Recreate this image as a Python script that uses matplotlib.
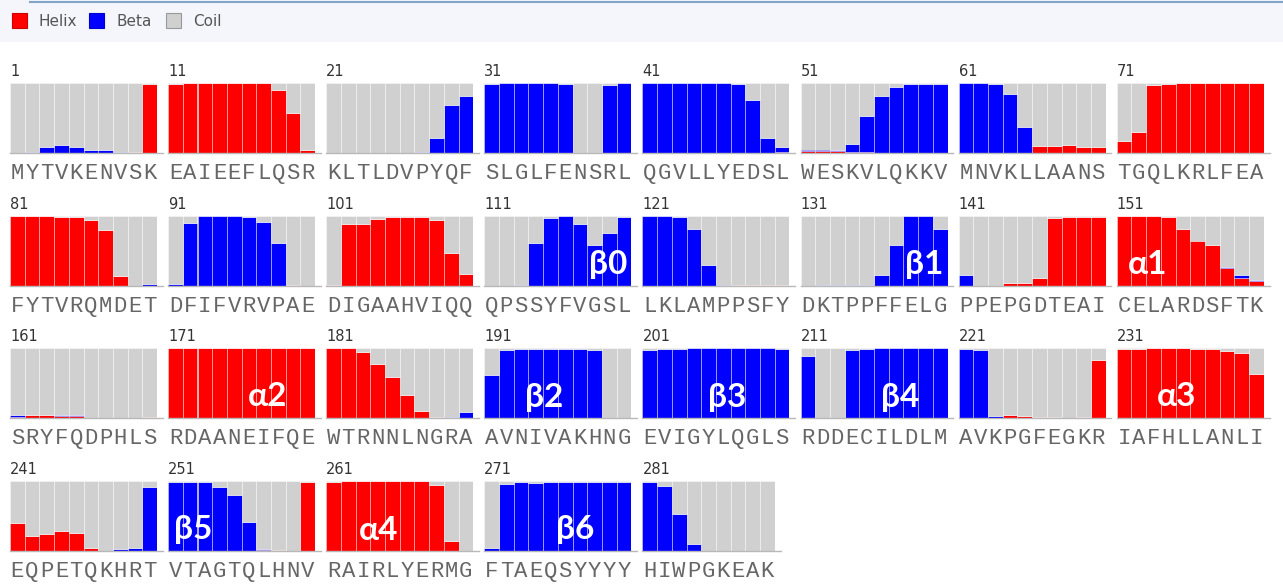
import matplotlib
matplotlib.use('Agg')
import matplotlib.pyplot as plt
from matplotlib.patches import Rectangle
import matplotlib.transforms as mtransforms

# residue sequence (10 per block)
blocks = ['MYTVKENVSK', 'EAIEEFLQSR', 'KLTLDVPYQF', 'SLGLFENSRL', 'QGVLLYEDSL',
          'WESKVLQKKV', 'MNVKLLAANS', 'TGQLKRLFEA', 'FYTVRQMDET', 'DFIFVRVPAE',
          'DIGAAHVIQQ', 'QPSSYFVGSL', 'LKLAMPPSFY', 'DKTPPFFELG', 'PPEPGDTEAI',
          'CELARDSFTK', 'SRYFQDPHLS', 'RDAANEIFQE', 'WTRNNLNGRA', 'AVNIVAKHNG',
          'EVIGYLQGLS', 'RDDECILDLM', 'AVKPGFEGKR', 'IAFHLLANLI', 'EQPETQKHRT',
          'VTAGTQLHNV', 'RAIRLYERMG', 'FTAEQSYYYY', 'HIWPGKEAK']
z10 = [0]*10

helix = [
    [0, 0, 0, 0, 0, 0, 0, 0, 0.01, 0.98],
    [0.99, 1, 1, 1, 1, 1, 1, 0.9, 0.57, 0.05],
    z10,
    z10,
    [0, 0, 0, 0, 0, 0, 0, 0, 0, 0.02],
    [0.03, 0.03, 0.03, 0.02, 0.01, 0, 0, 0, 0, 0],
    [0, 0, 0, 0, 0, 0.1, 0.1, 0.11, 0.09, 0.09],
    [0.17, 0.3, 0.97, 0.99, 1, 1, 1, 1, 1, 1],
    [1, 1, 1, 0.99, 0.98, 0.94, 0.8, 0.14, 0, 0],
    [0, 0, 0, 0, 0, 0, 0, 0, 0.01, 0],
    [0.02, 0.88, 0.89, 0.96, 0.99, 0.99, 0.98, 0.94, 0.47, 0.17],
    z10,
    [0, 0, 0, 0, 0, 0, 0.02, 0.02, 0.02, 0.01],
    z10,
    [0, 0, 0, 0.04, 0.04, 0.11, 0.97, 0.99, 0.99, 0.99],
    [1, 1, 1, 0.98, 0.81, 0.65, 0.58, 0.25, 0.12, 0.07],
    [0.02, 0.04, 0.04, 0.03, 0.03, 0, 0, 0, 0, 0.01],
    [1, 1, 1, 1, 1, 1, 1, 1, 1, 1],
    [1, 1, 0.95, 0.77, 0.59, 0.33, 0.1, 0.02, 0, 0],
    z10,
    z10,
    z10,
    [0, 0, 0, 0.04, 0.03, 0.02, 0.01, 0, 0.02, 0.83],
    [0.98, 0.99, 1, 1, 1, 0.99, 0.98, 0.96, 0.93, 0.63],
    [0.4, 0.21, 0.25, 0.28, 0.26, 0.05, 0, 0, 0, 0],
    [0, 0, 0, 0, 0, 0, 0.01, 0.01, 0, 0.98],
    [0.99, 1, 1, 1, 1, 1, 1, 0.95, 0.15, 0],
    z10,
    [0, 0, 0, 0, 0, 0, 0, 0, 0],
]

beta = [
    [0, 0.02, 0.08, 0.11, 0.08, 0.05, 0.04, 0.01, 0.01, 0],
    z10,
    [0, 0, 0, 0, 0, 0, 0.01, 0.21, 0.68, 0.82],
    [0.98, 1, 1, 1, 1, 0.98, 0, 0, 0.97, 1],
    [1, 1, 1, 1, 1, 1, 0.98, 0.76, 0.21, 0.07],
    [0.02, 0.02, 0.01, 0.11, 0.52, 0.81, 0.94, 0.98, 0.98, 0.98],
    [1, 1, 0.98, 0.84, 0.37, 0, 0, 0, 0, 0],
    z10,
    [0, 0, 0, 0, 0, 0, 0, 0, 0, 0.03],
    [0.03, 0.9, 1, 1, 1, 0.98, 0.92, 0.62, 0, 0],
    z10,
    [0, 0, 0.02, 0.62, 0.97, 1, 0.89, 0.58, 0.76, 0.98],
    [1, 1, 0.98, 0.82, 0.3, 0.02, 0, 0, 0, 0],
    [0, 0.02, 0.01, 0.01, 0.02, 0.16, 0.58, 1, 1, 0.82],
    [0.16, 0, 0, 0, 0, 0, 0, 0, 0, 0],
    [0, 0, 0, 0, 0, 0, 0, 0.02, 0.04, 0.02],
    [0.02, 0, 0, 0.02, 0.01, 0, 0, 0, 0, 0],
    z10,
    [0, 0, 0, 0, 0, 0, 0, 0, 0.02, 0.09],
    [0.62, 0.97, 0.99, 0.99, 0.99, 0.99, 0.99, 0.97, 0, 0],
    [0.97, 0.99, 0.99, 1, 1, 1, 1, 1, 1, 0.99],
    [0.88, 0, 0, 0.97, 0.99, 1, 1, 1, 1, 1],
    [0.99, 0.97, 0.03, 0, 0, 0, 0, 0, 0, 0],
    z10,
    [0, 0, 0, 0, 0, 0, 0, 0.03, 0.05, 0.91],
    [0.99, 0.99, 0.98, 0.92, 0.8, 0.42, 0.02, 0, 0, 0],
    z10,
    [0.04, 0.96, 0.99, 0.97, 0.98, 0.98, 0.98, 0.98, 0.98, 0.98],
    [0.99, 0.93, 0.53, 0.1, 0, 0, 0, 0, 0],
]

# secondary structure element labels: (block index, x frac, y frac, text)
ss_labels = [(11, 0.84, 0.3, 'β0'), (13, 0.84, 0.3, 'β1'), (15, 0.21, 0.3, 'α1'),
             (17, 0.68, 0.3, 'α2'), (19, 0.41, 0.3, 'β2'), (20, 0.58, 0.3, 'β3'),
             (21, 0.68, 0.3, 'β4'), (23, 0.41, 0.3, 'α3'), (25, 0.17, 0.3, 'β5'),
             (26, 0.36, 0.3, 'α4'), (27, 0.62, 0.3, 'β6')]

RED = '#ff0000'
BLUE = '#0000ff'
GRAY = '#d0d0d0'

W, H = 1283, 587
fig = plt.figure(figsize=(W/100, H/100), dpi=100)
fig.patch.set_facecolor('white')

# legend strip
fig.patches.append(Rectangle((0, 1-42/H), 1, 42/H, transform=fig.transFigure,
                             facecolor='#f4f6fb', edgecolor='none', zorder=0))
fig.add_artist(plt.Line2D([30/W, 1], [1-1.5/H, 1-1.5/H], transform=fig.transFigure,
                          color='#7fa6c8', lw=1.5))
for x0, col, ec, lab in [(12, RED, '#cc0000', 'Helix'), (89, BLUE, '#0000cc', 'Beta'),
                         (166, GRAY, '#999999', 'Coil')]:
    fig.patches.append(Rectangle((x0/W, 1-28/H), 15/W, 15/H, transform=fig.transFigure,
                                 facecolor=col, edgecolor=ec, lw=0.8))
    fig.text((x0+27)/W, 1-21/H, lab, fontsize=11, color='#555555', va='center',
             family='DejaVu Sans')

row_tops = [83, 216, 348, 481]
col_step = 158.1
panel_w = 147
panel_h = 70

axes = []
for k, seq in enumerate(blocks):
    r, c = divmod(k, 8)
    n = len(seq)
    left = 10 + col_step*c
    w = panel_w*n/10
    ax = fig.add_axes([left/W, 1-(row_tops[r]+panel_h)/H, w/W, panel_h/H])
    axes.append(ax)
    x = list(range(n))
    h = helix[k]
    b = beta[k]
    hb = [hi+bi for hi, bi in zip(h, b)]
    coil = [1-v for v in hb]
    ec = (1, 1, 1, 0.45)
    ax.bar(x, h, width=1, color=RED, edgecolor=ec, lw=0.6)
    ax.bar(x, b, width=1, bottom=h, color=BLUE, edgecolor=ec, lw=0.6)
    ax.bar(x, coil, width=1, bottom=hb, color=GRAY, edgecolor=ec, lw=0.6)
    ax.set_xlim(-0.5, n-0.5)
    ax.set_ylim(0, 1)
    ax.axis('off')
    ax.plot([-0.5, n-0.5+0.4], [0, 0], color='#b8b8b8', lw=1, clip_on=False)
    ax.text(0, 1.06, str(1+10*k), transform=ax.transAxes, fontsize=10.5,
            color='#333333', ha='left', va='bottom', family='DejaVu Sans')
    trans = mtransforms.blended_transform_factory(ax.transData, ax.transAxes)
    for i, ch in enumerate(seq):
        ax.text(i, -0.29, ch, transform=trans, fontsize=16, color='#666666',
                ha='center', va='center', family='Liberation Mono')

for k, fx, fy, txt in ss_labels:
    axes[k].text(fx, fy, txt, transform=axes[k].transAxes, fontsize=24,
                 fontweight='bold', color='white', ha='center', va='center',
                 family='Lato')

fig.savefig('out.png', dpi=100)
